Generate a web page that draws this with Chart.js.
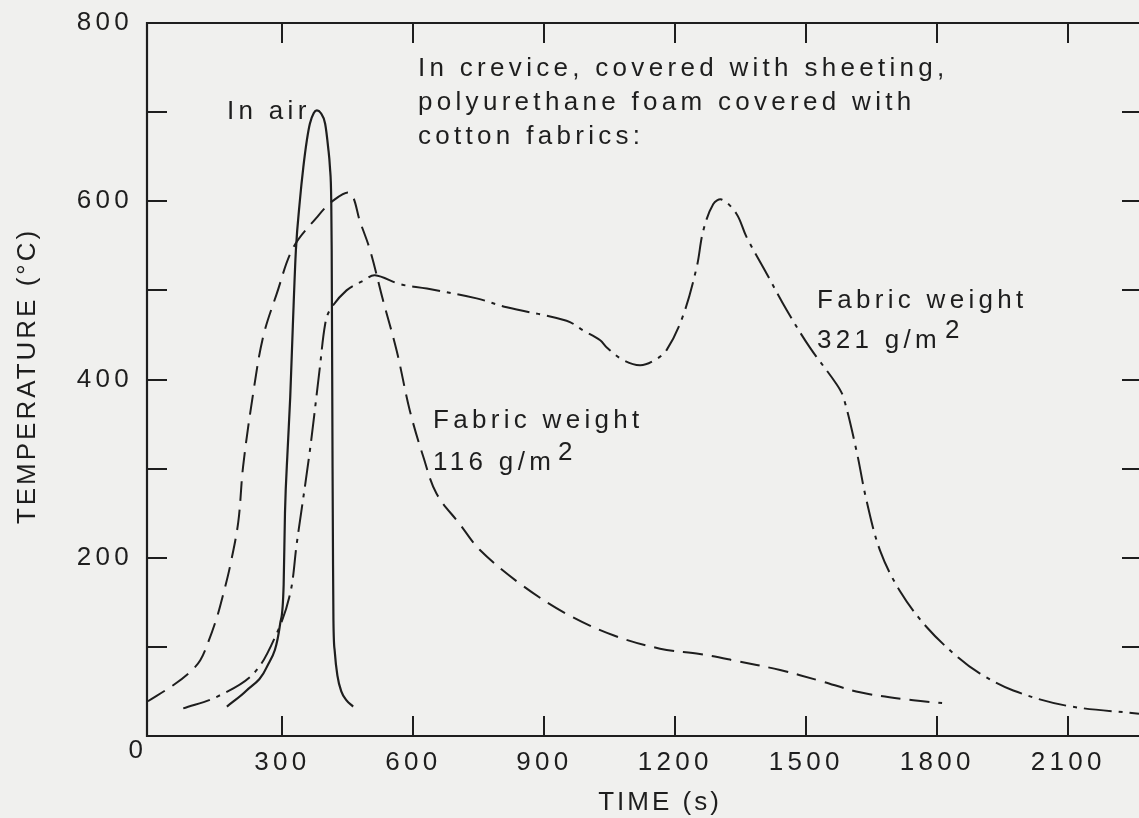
<!DOCTYPE html>
<html><head><meta charset="utf-8">
<script src="https://cdn.jsdelivr.net/npm/chart.js@4.4.0/dist/chart.umd.min.js"></script>
<style>html,body{margin:0;padding:0;background:#f0f0ee;overflow:hidden}canvas{display:block}</style>
</head><body>
<canvas id="c" width="1139" height="818"></canvas>
<script>
// ---- data ----
const xTickValues = [300, 600, 900, 1200, 1500, 1800, 2100];
const yTickMarks = [100, 200, 300, 400, 500, 600, 700];
const yTickLabels = [200, 400, 600, 800];

// "In air" (solid)
const airTime = [173, 218, 264, 295, 303, 306, 312, 318, 324, 331, 340, 348, 356, 363, 372, 379, 388, 398, 405, 409, 412, 413, 415, 416, 417, 420, 426, 435, 447, 462];
const airTemp = [33, 51, 77, 126, 170, 250, 320, 380, 460, 545, 600, 638, 668, 687, 699, 702, 699, 687, 660, 638, 600, 545, 300, 200, 130, 95, 68, 50, 40, 33];

// Fabric weight 116 g/m2 (dashed)
const f116Time = [-8, 50, 89, 112, 130, 150, 164, 180, 199, 210, 233, 256, 287, 325, 379, 417, 455, 478, 501, 530, 562, 592, 623, 653, 706, 752, 844, 951, 1058, 1165, 1256, 1332, 1440, 1531, 1623, 1745, 1811];
const f116Temp = [39, 57, 72, 85, 105, 133, 158, 190, 240, 302, 384, 448, 496, 548, 582, 601, 609, 577, 545, 490, 432, 365, 313, 272, 238, 209, 171, 137, 113, 98, 92, 85, 74, 62, 49, 40, 37];

// Fabric weight 321 g/m2 (dash-dot)
const f321Time = [73, 150, 234, 287, 318, 333, 363, 386, 398, 409, 447, 486, 512, 569, 631, 745, 814, 951, 989, 1028, 1043, 1080, 1119, 1150, 1180, 1218, 1249, 1264, 1287, 1306, 1340, 1363, 1409, 1455, 1508, 1569, 1585, 1615, 1638, 1669, 1714, 1776, 1848, 1898, 1974, 2096, 2262];
const f321Temp = [31, 44, 70, 115, 160, 216, 320, 414, 462, 478, 500, 511, 517, 507, 502, 491, 481, 466, 455, 444, 436, 422, 416, 421, 433, 472, 526, 567, 597, 602, 586, 560, 519, 478, 436, 395, 380, 320, 264, 208, 163, 122, 88, 70, 51, 34, 25];

const INK = '#1e1e1e';
const FONT = '"Liberation Sans", Arial, Helvetica, sans-serif';

const pts = (t, v) => t.map((x, i) => ({x, y: v[i]}));

const decor = {
  id: 'decor',
  beforeDraw(chart) { chart.ctx.letterSpacing = '4.3px'; },
  beforeDatasetsDraw(chart) {
    const {ctx, chartArea: a, scales: {x, y}} = chart;
    ctx.save();
    ctx.strokeStyle = INK; ctx.lineWidth = 2.2; ctx.lineCap = 'butt';
    ctx.beginPath();
    ctx.moveTo(a.right + 5, a.top); ctx.lineTo(a.left, a.top);
    ctx.lineTo(a.left, a.bottom); ctx.lineTo(a.right + 5, a.bottom);
    ctx.stroke();
    ctx.lineWidth = 2;
    ctx.beginPath();
    xTickValues.forEach(v => {
      const px = Math.round(x.getPixelForValue(v));
      ctx.moveTo(px, a.bottom); ctx.lineTo(px, a.bottom - 20);
      ctx.moveTo(px, a.top); ctx.lineTo(px, a.top + 20);
    });
    yTickMarks.forEach(v => {
      const py = Math.round(y.getPixelForValue(v));
      ctx.moveTo(a.left, py); ctx.lineTo(a.left + 20, py);
      ctx.moveTo(a.right + 3, py); ctx.lineTo(a.right - 17, py);
    });
    ctx.stroke();
    ctx.restore();
  },
  afterDraw(chart) {
    const ctx = chart.ctx;
    ctx.save();
    ctx.fillStyle = INK;
    ctx.textBaseline = 'alphabetic';
    ctx.textAlign = 'left';
    ctx.font = '26px ' + FONT;
    ctx.letterSpacing = '4.3px';
    ctx.fillText('In air', 227, 119);
    ctx.fillText('In crevice, covered with sheeting,', 418, 76);
    ctx.fillText('polyurethane foam covered with', 418, 110);
    ctx.fillText('cotton fabrics:', 418, 144);
    ctx.fillText('Fabric weight', 433, 428);
    ctx.fillText('116 g/m', 433, 470);
    ctx.fillText('2', 558, 460);
    ctx.fillText('Fabric weight', 817, 308);
    ctx.fillText('321 g/m', 817, 348);
    ctx.fillText('2', 945, 338);
    // corner zero
    ctx.textAlign = 'center'; ctx.textBaseline = 'middle';
    ctx.fillText('0', 138, 751);
    // axis titles
    ctx.letterSpacing = '3px';
    ctx.textBaseline = 'alphabetic';
    ctx.fillText('TIME (s)', 660, 810);
    ctx.translate(35, 376);
    ctx.rotate(-Math.PI / 2);
    ctx.fillText('TEMPERATURE (°C)', 0, 0);
    ctx.restore();
  }
};

new Chart(document.getElementById('c'), {
  type: 'line',
  data: {
    datasets: [
      {label: 'In air', data: pts(airTime, airTemp), borderColor: INK, borderWidth: 2.2, cubicInterpolationMode: 'monotone'},
      {label: 'Fabric weight 116 g/m2', data: pts(f116Time, f116Temp), borderColor: INK, borderWidth: 2, borderDash: [20, 9], tension: 0.35},
      {label: 'Fabric weight 321 g/m2', data: pts(f321Time, f321Temp), borderColor: INK, borderWidth: 2, borderDash: [28, 7, 4, 7], tension: 0.35}
    ]
  },
  options: {
    responsive: false,
    animation: false,
    devicePixelRatio: 1,
    layout: {padding: {top: 23, right: 0, left: 0, bottom: 0}},
    elements: {point: {radius: 0}, line: {fill: false, capBezierPoints: true}},
    plugins: {legend: {display: false}, tooltip: {enabled: false}, title: {display: false}},
    scales: {
      x: {
        type: 'linear', position: 'bottom', min: -10, max: 2262,
        grid: {display: false, drawTicks: false},
        border: {display: false},
        afterBuildTicks: s => { s.ticks = xTickValues.map(v => ({value: v})); },
        afterFit: s => { s.height = 82; s.paddingLeft = 0; s.paddingRight = 0; },
        ticks: {color: INK, font: {family: FONT, size: 26}, padding: 11, maxRotation: 0, autoSkip: false,
          callback: v => String(v)}
      },
      y: {
        type: 'linear', position: 'left', min: 0, max: 800,
        grid: {display: false, drawTicks: false},
        border: {display: false},
        afterBuildTicks: s => { s.ticks = yTickLabels.map(v => ({value: v})); },
        afterFit: s => { s.width = 147; s.paddingTop = 0; s.paddingBottom = 0; },
        ticks: {color: INK, font: {family: FONT, size: 26}, padding: 14, autoSkip: false,
          callback: v => String(v)}
      }
    }
  },
  plugins: [decor]
});
</script>
</body></html>
